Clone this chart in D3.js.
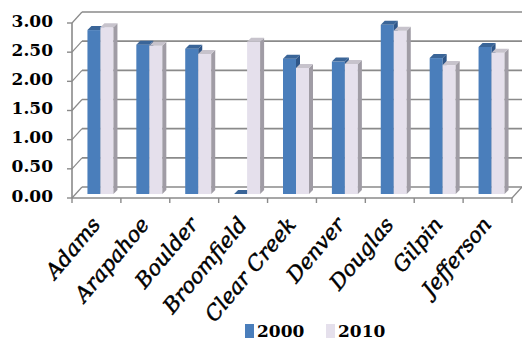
<!DOCTYPE html>
<html>
<head>
<meta charset="utf-8">
<script src="https://cdn.jsdelivr.net/npm/d3@7"></script>
<style>
  html, body { margin: 0; padding: 0; background: #fff; }
  svg { display: block; }
</style>
</head>
<body>
<svg id="chart" width="522" height="343"></svg>
<script>
// Average values per county, 2000 vs 2010
const counties = ["Adams", "Arapahoe", "Boulder", "Broomfield", "Clear Creek", "Denver", "Douglas", "Gilpin", "Jefferson"];
const values2000 = [2.81, 2.56, 2.49, 0, 2.32, 2.27, 2.90, 2.33, 2.52];
const values2010 = [2.86, 2.54, 2.40, 2.61, 2.16, 2.23, 2.80, 2.21, 2.42];
const seriesNames = ["2000", "2010"];
const yTicks = [0, 0.5, 1, 1.5, 2, 2.5, 3];

const svg = d3.select("#chart");

// Pseudo-3D layout: front axis plane, bar plane and back wall, each shifted by depth
const front = { x0: 72, x1: 512, yBase: 198, yTop: 23 };
const backShift = { dx: 10, dy: -11 };
const barShift = { dx: 4, dy: -4 };
const barDepth = { dx: 4, dy: -4 };
const barW = 13;

const y = d3.scaleLinear().domain([0, 3]).range([front.yBase, front.yTop]);
const x = d3.scaleBand().domain(counties).range([front.x0, front.x1]).padding(0);

const gridColor = "#8a8a8a";
const colors = {
  "2000": { front: "#4a7ebb", top: "#3a6598", side: "#2f5688" },
  "2010": { front: "#e5e0ec", top: "#c7c3cc", side: "#a09ca5" }
};

// Back wall gridlines
const wall = svg.append("g");
wall.selectAll("line.grid").data(yTicks).join("line")
  .attr("x1", front.x0 + backShift.dx).attr("x2", front.x1 + backShift.dx)
  .attr("y1", d => y(d) + backShift.dy).attr("y2", d => y(d) + backShift.dy)
  .attr("stroke", gridColor).attr("stroke-width", 1.6);

// Side wall diagonals joining front ticks to back gridlines
wall.selectAll("line.diag").data(yTicks).join("line")
  .attr("x1", front.x0).attr("x2", front.x0 + backShift.dx)
  .attr("y1", d => y(d)).attr("y2", d => y(d) + backShift.dy)
  .attr("stroke", gridColor).attr("stroke-width", 1.2);

// Floor right edge
wall.append("line")
  .attr("x1", front.x1).attr("x2", front.x1 + backShift.dx)
  .attr("y1", y(0)).attr("y2", y(0) + backShift.dy)
  .attr("stroke", gridColor).attr("stroke-width", 1.2);

// Bars
const bars = svg.append("g");
const pairs = counties.map((c, i) => ({ county: c, v: [values2000[i], values2010[i]] }));
pairs.forEach(p => {
  const cx = x(p.county) + x.bandwidth() / 2 + barShift.dx;
  seriesNames.forEach((s, k) => {
    const v = p.v[k];
    const x0 = cx - barW + k * barW;
    const yb = y(0) + barShift.dy;
    const yt = y(v) + barShift.dy;
    const col = colors[s];
    const g = bars.append("g");
    if (v > 0) {
      g.append("rect").attr("x", x0).attr("y", yt).attr("width", barW).attr("height", yb - yt)
        .attr("fill", col.front);
      g.append("polygon")
        .attr("points", [[x0 + barW, yt], [x0 + barW + barDepth.dx, yt + barDepth.dy],
                         [x0 + barW + barDepth.dx, yb + barDepth.dy], [x0 + barW, yb]].join(" "))
        .attr("fill", col.side);
    }
    g.append("polygon")
      .attr("points", [[x0, yt], [x0 + barW, yt], [x0 + barW + barDepth.dx, yt + barDepth.dy],
                       [x0 + barDepth.dx, yt + barDepth.dy]].join(" "))
      .attr("fill", col.top);
  });
});

// Front value axis
const yAxis = svg.append("g");
yAxis.append("line").attr("x1", front.x0).attr("x2", front.x0)
  .attr("y1", y(3)).attr("y2", y(0)).attr("stroke", gridColor).attr("stroke-width", 1.6);
yAxis.selectAll("line.tick").data(yTicks).join("line")
  .attr("x1", front.x0 - 5).attr("x2", front.x0)
  .attr("y1", d => y(d)).attr("y2", d => y(d))
  .attr("stroke", gridColor).attr("stroke-width", 1.4);
yAxis.selectAll("text").data(yTicks).join("text")
  .attr("x", 53).attr("y", d => y(d) - 1)
  .attr("text-anchor", "end").attr("dominant-baseline", "middle")
  .attr("font-family", "'DejaVu Serif', serif").attr("font-weight", "bold")
  .attr("font-size", 17).attr("fill", "#000")
  .text(d3.format(".2f"));

// Front category axis
const xAxis = svg.append("g");
xAxis.append("line").attr("x1", front.x0).attr("x2", front.x1)
  .attr("y1", y(0)).attr("y2", y(0)).attr("stroke", gridColor).attr("stroke-width", 1.6);
const boundaries = counties.map(c => x(c)).concat([front.x1]);
xAxis.selectAll("line.tick").data(boundaries).join("line")
  .attr("x1", d => d).attr("x2", d => d)
  .attr("y1", y(0)).attr("y2", y(0) + 5)
  .attr("stroke", gridColor).attr("stroke-width", 1.4);
xAxis.selectAll("text").data(counties).join("text")
  .attr("transform", d => `translate(${x(d) + x.bandwidth() / 2 + 5},${y(0) + 27}) rotate(-50)`)
  .attr("text-anchor", "end")
  .attr("font-family", "'DejaVu Serif', serif").attr("font-style", "italic")
  .attr("font-size", 21).attr("fill", "#000")
  .attr("stroke", "#000").attr("stroke-width", 0.5)
  .text(d => d);

// Legend
const legend = svg.append("g");
const legendX = [245, 326];
seriesNames.forEach((s, k) => {
  legend.append("rect").attr("x", legendX[k]).attr("y", 324).attr("width", 9).attr("height", 14)
    .attr("fill", colors[s].front);
  legend.append("text").attr("x", legendX[k] + 12).attr("y", 332)
    .attr("dominant-baseline", "middle")
    .attr("font-family", "'DejaVu Serif', serif").attr("font-weight", "bold")
    .attr("font-size", 17).attr("fill", "#000").text(s);
});
</script>
</body>
</html>
